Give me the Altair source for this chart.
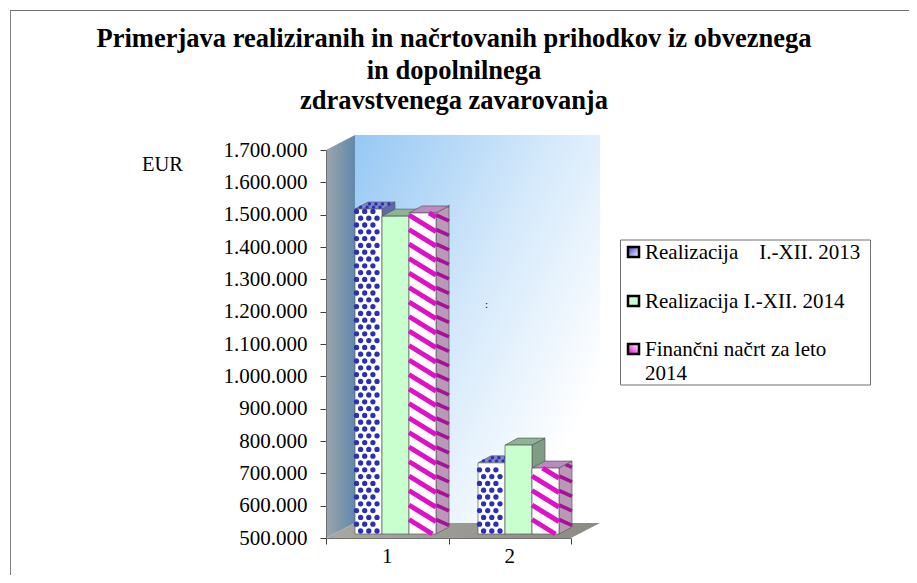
import altair as alt
import pandas as pd

groups = [1, 2]
series = ["Realizacija I.-XII. 2013", "Realizacija I.-XII. 2014", "Finančni načrt za leto 2014"]
values = {
    series[0]: [1505000, 720000],
    series[1]: [1483000, 775000],
    series[2]: [1493000, 704000],
}
y_ticks = list(range(500000, 1700001, 100000))
title_lines = ["Primerjava realiziranih in načrtovanih prihodkov iz obveznega",
               "in dopolnilnega", "zdravstvenega zavarovanja"]
legend_lines = ["Realizacija\u00a0\u00a0\u00a0\u00a0I.-XII. 2013", "Realizacija I.-XII. 2014",
                "Finančni načrt za leto", "2014"]

PL, PT, PW, PH = 318, 142, 245, 388
W, H = 901, 567
FONT = "Liberation Serif"
ux = PW / 2.0
uy = PH / 1200000.0
xs = alt.Scale(domain=[0.5, 2.5], nice=False, zero=False)
ys = alt.Scale(domain=[500000, 1700000], nice=False, zero=False)

x_axis = alt.Axis(values=[0.5, 1.5, 2.5], labels=False, title=None, tickColor="#404040",
                  domainColor="#707070", tickSize=6, grid=False, zindex=1)
y_axis = alt.Axis(values=y_ticks, title=None, labelFont=FONT, labelFontSize=21, labelColor="#000000",
                  tickColor="#404040", domainColor="#707070", tickSize=6, labelPadding=13, grid=False, zindex=1,
                  labelExpr="replace(replace(format(datum.value, ','), ',', '.'), ',', '.')")

def X(name="x"):
    return alt.X(f"{name}:Q", scale=xs, axis=x_axis)
def Y(name="y"):
    return alt.Y(f"{name}:Q", scale=ys, axis=y_axis)

def area(points, fill, stroke=None, sw=0.7):
    df = pd.DataFrame(points, columns=["x", "y", "y2"])
    kw = dict(fill=fill, interpolate="linear", opacity=1)
    if stroke:
        kw.update(stroke=stroke, strokeWidth=sw)
    return alt.Chart(df).mark_area(**kw).encode(x=X(), y=Y(), y2=alt.Y2("y2:Q"))

def px_rect(x, x2, y, y2, **kw):
    return alt.Chart(pd.DataFrame({"a": [0]})).mark_rect(**kw).encode(
        x=alt.value(x - PL - 8), x2=alt.value(x2 - PL - 8),
        y=alt.value(y - PT - 8), y2=alt.value(y2 - PT - 8))

layers = []

# page frame: top and left edge only
layers.append(px_rect(10, 917, 10, 11, fill="#707070"))
layers.append(px_rect(10, 11, 10, 583, fill="#808080"))

# 3D walls
DX, DY = 29 / ux, 15 / uy
x0, x1 = 0.5, 2.5
v0, v1 = 500000, 1700000
wall_grad = alt.Gradient(gradient="linear", x1=0, y1=0, x2=1, y2=0,
                         stops=[alt.GradientStop(color="#9CA5AC", offset=0),
                                alt.GradientStop(color="#6089AB", offset=1)])
layers.append(area([(x0, v0, v1), (x0 + DX, v0 + DY, v1 + DY)], wall_grad))
floor_grad = alt.Gradient(gradient="linear", x1=0, y1=0, x2=1, y2=0,
                          stops=[alt.GradientStop(color="#A8A8A2", offset=0),
                                 alt.GradientStop(color="#8B8B83", offset=1)])
layers.append(area([(x0, v0, v0), (x0 + DX, v0, v0 + DY), (x1, v0, v0 + DY), (x1 + DX, v0 + DY, v0 + DY)], floor_grad))
back_grad = alt.Gradient(gradient="linear", x1=0, y1=0, x2=1, y2=0.8,
                         stops=[alt.GradientStop(color="#96C8F4", offset=0),
                                alt.GradientStop(color="#D5E9FB", offset=0.5),
                                alt.GradientStop(color="#FFFFFF", offset=0.92)])
back = pd.DataFrame({"x": [x0 + DX], "x2": [x1 + DX], "y": [v0 + DY], "y2": [v1 + DY]})
layers.append(alt.Chart(back).mark_rect(fill=back_grad).encode(x=X(), x2="x2:Q", y=Y(), y2="y2:Q"))

# bars
BAR_W = 27 / ux
B_DX, B_DY = 13 / ux, 7 / uy
FRONT_DY = 4 / uy
STY = [
    dict(front="#FFFFFF", side="#5E6AA8", top="#7F86CC"),
    dict(front="#C9FFCF", side="#7E9E84", top="#8CB496"),
    dict(front="#FFFFFF", side="#B79AB6", top="#B98CC0"),
]
EDGE = "#5A5A5A"

def dots(xl, xr, yb, yt, color="#2A2FB8", size=28):
    """decorative dot texture of the first series, in chart units"""
    sx, sy = 8.2 / ux, 6.8 / uy
    rows = []
    r = 0
    yy = yb + 3 / uy
    while yy < yt - 1 / uy:
        xx = xl + (1.5 if r % 2 else 5.6) / ux
        while xx < xr - 1 / ux:
            rows.append((xx, yy))
            xx += sx
        yy += sy
        r += 1
    return alt.Chart(pd.DataFrame(rows, columns=["x", "y"])).mark_point(
        filled=True, shape="circle", size=size, color=color, opacity=1).encode(x=X(), y=Y())

def top_dots(xl, xr, yt, color="#2A2FB8", size=12):
    rows = []
    for row in range(2):
        f = (row + 0.6) / 2.2
        xx = xl + f * B_DX + 2 / ux + row * 3 / ux
        while xx < xr + f * B_DX - 1 / ux:
            rows.append((xx, yt + f * B_DY))
            xx += 6.5 / ux
    return alt.Chart(pd.DataFrame(rows, columns=["x", "y"])).mark_point(
        filled=True, shape="circle", size=size, color=color, opacity=1).encode(x=X(), y=Y())

def stripes(xl, xr, yb, yt, px_slope=0.62, shear=0.0, sw=5.0, color="#E010C8"):
    """decorative diagonal hatch of the third series; clipped to a (sheared) face"""
    slope = -px_slope * ux / uy
    rel = slope - shear            # slope relative to the sheared face
    period = 14.5 / uy
    rows = []
    span = abs(rel) * (xr - xl)
    c = yb
    k = 0
    while c < yt + span:
        xa = xl if c <= yt else xl + (yt - c) / rel
        xb = xr if c + rel * (xr - xl) >= yb else xl + (yb - c) / rel
        if xa < xb:
            rows.append((k, xa, c + slope * (xa - xl)))
            rows.append((k, xb, c + slope * (xb - xl)))
        c += period
        k += 1
    return alt.Chart(pd.DataFrame(rows, columns=["k", "x", "y"])).mark_line(
        color=color, strokeWidth=sw, strokeCap="butt", opacity=1).encode(
        x=X(), y=Y(), detail="k:N")

GROUP_LEFT = [0.5 + 29 / ux, 0.5 + 152 / ux]
sh = B_DY / B_DX
for g, gl in zip(groups, GROUP_LEFT):
    for i, s in enumerate(series):
        v = values[s][g - 1]
        xl = gl + i * BAR_W
        xr = xl + BAR_W
        st = STY[i]
        bot = v0 + FRONT_DY
        ttop = v + FRONT_DY
        layers.append(area([(xr, bot, ttop), (xr + B_DX, bot + B_DY, ttop + B_DY)], st["side"], EDGE))
        if i == 2:
            layers.append(stripes(xr, xr + B_DX, bot, ttop, px_slope=0.45, shear=sh, sw=3.6, color="#A8109A"))
        layers.append(area([(xl, ttop, ttop), (xl + B_DX, ttop, ttop + B_DY), (xr, ttop, ttop + B_DY), (xr + B_DX, ttop + B_DY, ttop + B_DY)], st["top"], EDGE))
        if i == 0:
            layers.append(top_dots(xl, xr, ttop))
        layers.append(area([(xl, bot, ttop), (xr, bot, ttop)], st["front"], EDGE))
        if i == 0:
            layers.append(dots(xl, xr, bot, ttop))
        if i == 2:
            layers.append(stripes(xl, xr, bot, ttop))

# x labels
layers.append(alt.Chart(pd.DataFrame({"g": groups})).mark_text(
    font=FONT, fontSize=21, color="#000000", baseline="alphabetic").encode(
    x=X("g"), y=alt.value(PH + 25), text="g:N"))

def label(txt, x, y, size, weight="normal", align="left"):
    return alt.Chart(pd.DataFrame({"t": [txt]})).mark_text(
        font=FONT, fontSize=size, fontWeight=weight, align=align, baseline="alphabetic",
        color="#000000").encode(x=alt.value(x - PL - 8), y=alt.value(y - PT - 8), text="t:N")

for t, y in zip(title_lines, [47, 79, 109]):
    layers.append(label(t, 454, y, 26.5, "bold", "center"))
layers.append(label("EUR", 142, 171, 20.5))
layers.append(label(":", 485, 308, 11))

# legend
layers.append(px_rect(620.5, 870.5, 240, 385, fill="white", stroke="#707070", strokeWidth=1))
for t, y in zip(legend_lines, [259, 308, 356, 380]):
    layers.append(label(t, 645, y, 21))
sw_fill = [
    alt.Gradient(gradient="linear", x1=0, y1=0, x2=1, y2=1,
                 stops=[alt.GradientStop(color="#3A3AD0", offset=0), alt.GradientStop(color="#FFFFFF", offset=1)]),
    "#C9FFCF",
    alt.Gradient(gradient="linear", x1=0, y1=1, x2=1, y2=0,
                 stops=[alt.GradientStop(color="#E400C8", offset=0), alt.GradientStop(color="#FFFFFF", offset=1)]),
]
for f, y in zip(sw_fill, [252, 301, 349]):
    layers.append(px_rect(628, 639, y - 5, y + 5, fill=f, stroke="#000000", strokeWidth=2.5))

chart = alt.layer(*layers).properties(
    width=PW, height=PH,
    padding={"left": PL, "top": PT, "right": W - PL - PW, "bottom": H - PT - PH},
    autosize=alt.AutoSizeParams(type="none"),
).configure_view(stroke=None)

chart.save("out.html", embed_options={"renderer": "svg", "actions": False})
